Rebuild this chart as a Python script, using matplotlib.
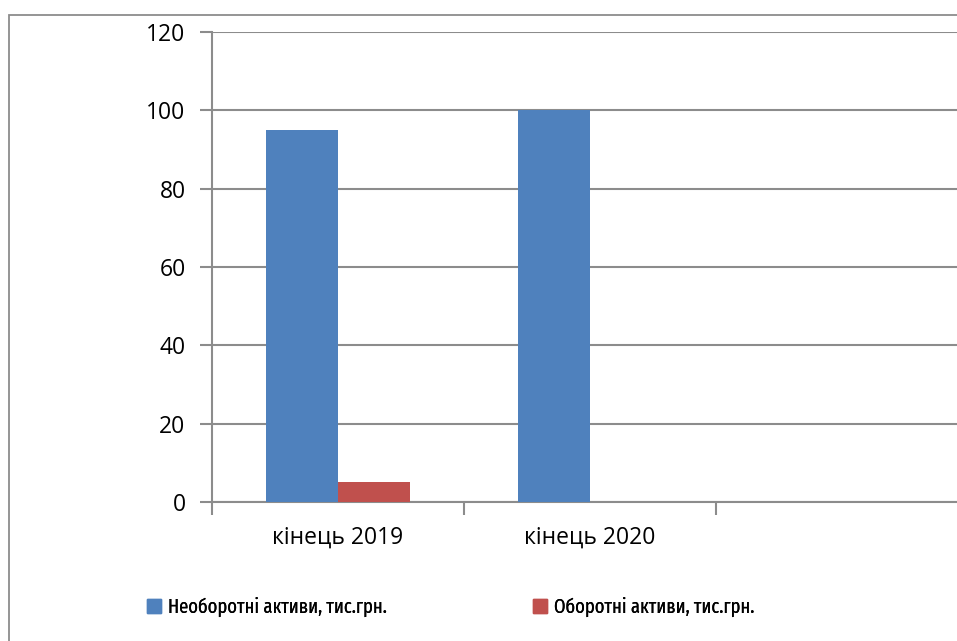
import matplotlib
matplotlib.use("Agg")
import matplotlib.pyplot as plt
from matplotlib.patches import Rectangle, Patch
import numpy as np

categories = ["кінець 2019", "кінець 2020", ""]
non_current = [95, 100, 0]
current = [5, 0, 0]
series_names = ["Необоротні активи, тис.грн.", "Оборотні активи, тис.грн."]
y_ticks = [0, 20, 40, 60, 80, 100, 120]

blue = "#4F81BD"
red = "#C0504D"
grid_col = "#8C8C8C"

plt.rcParams["font.family"] = ["Open Sans", "DejaVu Sans"]

W, H = 957, 641
fig = plt.figure(figsize=(W / 100, H / 100), dpi=100)

# outer chart frame (continues beyond the right/bottom edges)
fig.patches.append(Rectangle((9 / W, -0.1), 1.2, 1 - 15 / H + 0.1,
                             transform=fig.transFigure, fill=False,
                             edgecolor=grid_col, linewidth=1.3))

left, right = 212 / W, 968 / W
bottom, top = 1 - 502 / H, 1 - 32 / H
ax = fig.add_axes([left, bottom, right - left, top - bottom])

x = np.arange(len(categories))
w = 0.286
ax.bar(x - w / 2, non_current, width=w, color=blue, label=series_names[0], zorder=3)
ax.bar(x + w / 2, current, width=w, color=red, label=series_names[1], zorder=3)

ax.set_xlim(-0.5, len(categories) - 0.5)
ax.set_ylim(0, 120)
ax.set_yticks(y_ticks)
ax.yaxis.grid(True, color=grid_col, linewidth=1.5, zorder=0)
ax.set_axisbelow(True)

for s in ["top", "right"]:
    ax.spines[s].set_visible(False)
for s in ["left", "bottom"]:
    ax.spines[s].set_color(grid_col)
    ax.spines[s].set_linewidth(1.5)

ax.set_xticks(x)
ax.set_xticklabels(categories, fontsize=16.5)
ax.set_xticks(np.arange(len(categories)) - 0.5, minor=True)
ax.tick_params(axis="x", which="major", length=0, pad=17)
ax.tick_params(axis="x", which="minor", length=9, width=1.5, color=grid_col)
ax.tick_params(axis="y", length=9, width=1.5, color=grid_col, labelsize=16.5, pad=10)

# legend entries, each placed on its own
legend_font = {"family": ["Fira Sans Extra Condensed", "Roboto Condensed", "Open Sans"],
               "size": 14.5}
for colour, name, x0 in [(blue, series_names[0], 147), (red, series_names[1], 533)]:
    leg = fig.legend([Patch(color=colour)], [name], loc="center left",
                     bbox_to_anchor=(x0 / W, 1 - 607 / H),
                     frameon=False, handlelength=0.7, handleheight=0.7,
                     handletextpad=0.35, borderpad=0.0, borderaxespad=0.0,
                     prop=legend_font)
    fig.add_artist(leg)

fig.savefig("out.png", dpi=100)
